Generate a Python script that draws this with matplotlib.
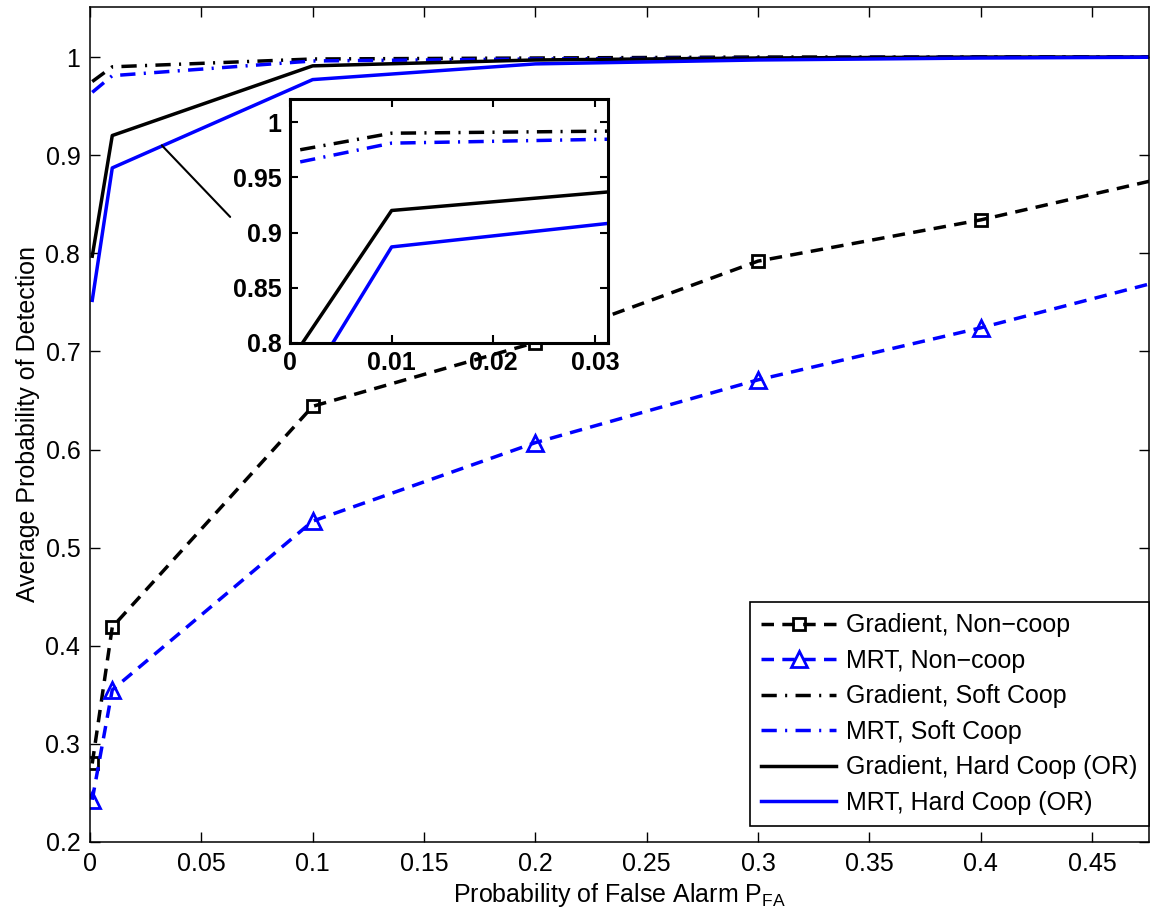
import numpy as np
import matplotlib
matplotlib.use("Agg")
import matplotlib.pyplot as plt

plt.rcParams['font.family'] = ['Liberation Sans', 'DejaVu Sans']
plt.rcParams['lines.scale_dashes'] = False
plt.rcParams['mathtext.fontset'] = 'custom'
plt.rcParams['mathtext.rm'] = 'Liberation Sans'

# false alarm probabilities
pfa = [0.001, 0.01, 0.1, 0.2, 0.3, 0.4, 0.5]

# detection probabilities
grad_noncoop = [0.280, 0.419, 0.644, 0.709, 0.792, 0.834, 0.886]
mrt_noncoop = [0.243, 0.355, 0.527, 0.607, 0.671, 0.724, 0.783]
grad_soft = [0.975, 0.990, 0.998, 0.999, 1.000, 1.000, 1.000]
mrt_soft = [0.964, 0.981, 0.996, 0.998, 0.999, 1.000, 1.000]
grad_hard = [0.797, 0.920, 0.991, 0.997, 0.999, 1.000, 1.000]
mrt_hard = [0.752, 0.887, 0.977, 0.993, 0.997, 0.999, 1.000]

labels = ['Gradient, Non\u2212coop', 'MRT, Non\u2212coop', 'Gradient, Soft Coop',
          'MRT, Soft Coop', 'Gradient, Hard Coop (OR)', 'MRT, Hard Coop (OR)']

LW = 2.5
DASH = (0, (9, 6))
DASHDOT = (0, (11, 6, 1.5, 6))
FS = 18


def draw_curves(ax):
    mk = dict(markersize=9, markeredgewidth=2, markerfacecolor='none')
    ax.plot(pfa, grad_noncoop, color='k', ls=DASH, lw=LW, marker='s', label=labels[0], **mk)
    mk['markersize'] = 12
    ax.plot(pfa, mrt_noncoop, color='b', ls=DASH, lw=LW, marker='^', label=labels[1], **mk)
    ax.plot(pfa, grad_soft, color='k', ls=DASHDOT, lw=LW, label=labels[2])
    ax.plot(pfa, mrt_soft, color='b', ls=DASHDOT, lw=LW, label=labels[3])
    ax.plot(pfa, grad_hard, color='k', ls='-', lw=LW, label=labels[4])
    ax.plot(pfa, mrt_hard, color='b', ls='-', lw=LW, label=labels[5])


fig = plt.figure(figsize=(11.51, 9.19), dpi=100)
ax = fig.add_axes([0.0782, 0.0838, 0.9201, 0.9086])
draw_curves(ax)

ax.set_xlim(0, 0.4756)
ax.set_ylim(0.2, 1.051)
ax.set_xticks(np.arange(0, 0.46, 0.05))
ax.set_xticklabels(['0', '0.05', '0.1', '0.15', '0.2', '0.25', '0.3', '0.35', '0.4', '0.45'])
ax.set_yticks(np.arange(0.2, 1.01, 0.1))
ax.set_yticklabels(['0.2', '0.3', '0.4', '0.5', '0.6', '0.7', '0.8', '0.9', '1'])
ax.tick_params(direction='in', length=7, width=1, top=True, right=True, labelsize=FS, pad=7)
for s in ax.spines.values():
    s.set_linewidth(1.1)
ax.set_xlabel('Probability of False Alarm P$_{\\mathregular{FA}}$', fontsize=FS, labelpad=4)
ax.set_ylabel('Average Probability of Detection', fontsize=FS, labelpad=4)

leg = ax.legend(loc='lower right', bbox_to_anchor=(1.0, 0.019), fontsize=FS,
                handlelength=3.0, borderaxespad=0, fancybox=False, edgecolor='k',
                framealpha=1, labelspacing=0.46, borderpad=0.45, handletextpad=0.4)
leg.get_frame().set_linewidth(1.2)

# pointer from the curves to the zoomed inset
ax.annotate('', xy=(0.0314, 0.912), xytext=(0.0638, 0.835),
            arrowprops=dict(arrowstyle='-', color='k', lw=1.5))

# inset zoom
ins = fig.add_axes([0.252, 0.6268, 0.2763, 0.2655])
draw_curves(ins)
ins.set_xlim(0, 0.0313)
ins.set_ylim(0.8, 1.021)
ins.set_xticks([0, 0.01, 0.02, 0.03])
ins.set_xticklabels(['0', '0.01', '0.02', '0.03'])
ins.set_yticks([0.8, 0.85, 0.9, 0.95, 1.0])
ins.set_yticklabels(['0.8', '0.85', '0.9', '0.95', '1'])
ins.tick_params(direction='in', length=6, width=1.5, top=True, right=True, labelsize=FS, pad=6)
for t in ins.get_xticklabels() + ins.get_yticklabels():
    t.set_fontweight('bold')
for s in ins.spines.values():
    s.set_linewidth(2.2)

fig.savefig('out.png', dpi=100)
